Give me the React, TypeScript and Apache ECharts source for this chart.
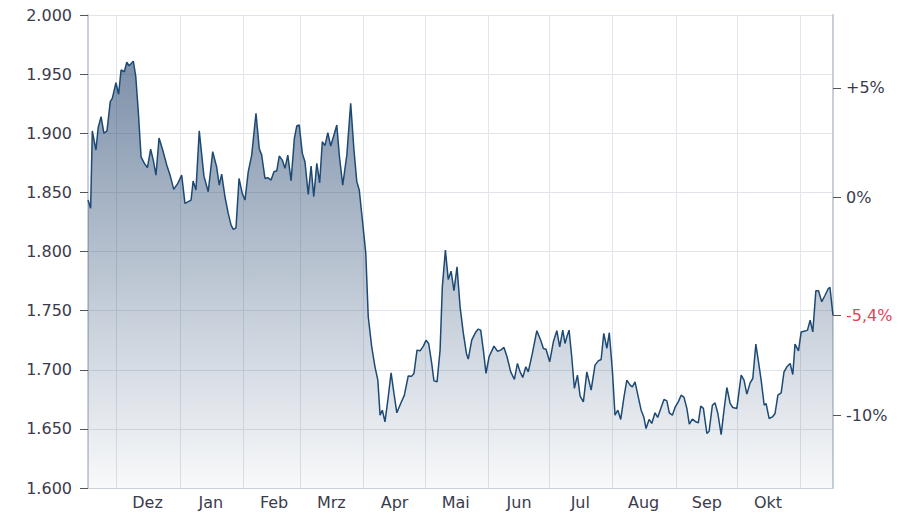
import { useEffect, useRef } from 'react';
import * as echarts from 'echarts';

// period shown: one year of daily closes
const startDate = Date.UTC(2022, 10, 17);
const spanDays = 365;
const DAY = 86400000;

// reference close for the percent scale on the right
const refClose = 1.846;

// day offsets (from startDate)
const dayOffsets = [
  0, 1.3, 2.1, 3.9, 5.0, 6.4, 7.8, 9.3, 10.9, 11.9, 13.7, 15.0, 16.2, 17.8, 19.0, 20.2, 22.2, 23.4, 24.6, 26.0,
  27.6, 29.1, 30.7, 32.0, 33.3, 34.8, 36.6, 38.6, 40.3, 42.0, 44.0, 45.9, 47.5, 50.5, 51.5, 52.9, 54.5, 56.8, 58.9,
  61.1, 63.0, 64.3, 65.5, 67.1, 68.7, 70.1, 71.2, 72.5, 74.0, 75.6, 76.9, 78.5, 80.2, 82.3, 83.9, 85.1, 86.7, 88.1,
  89.7, 91.1, 92.5, 93.7, 95.2, 96.5, 97.9, 99.5, 101.1, 102.3, 103.5, 105.0, 106.3, 107.9, 109.3, 110.6, 112.1,
  113.5, 114.8, 116.1, 117.5, 118.9, 120.5, 121.9, 123.2, 124.8, 126.8, 128.7, 130.3, 131.7, 132.9, 134.6, 136.1,
  137.3, 139.0, 140.6, 142.0, 143.1, 144.2, 145.5, 147.1, 148.5, 149.9, 151.3, 153.2, 155.0, 156.9, 158.6, 159.7,
  161.2, 162.7, 164.3, 165.6, 166.9, 168.4, 169.5, 171.0, 172.5, 173.6, 175.1, 176.5, 177.9, 179.3, 180.8, 182.3,
  183.9, 185.4, 186.3, 188.0, 190.0, 191.2, 192.4, 193.7, 195.0, 196.5, 198.9, 200.6, 202.2, 203.8, 205.3, 207.1,
  208.9, 210.4, 211.7, 213.0, 214.5, 215.7, 217.7, 219.9, 221.8, 223.1, 224.4, 226.2, 228.0, 229.7, 231.1, 232.6,
  233.7, 234.6, 235.7, 237.0, 238.3, 239.8, 241.1, 242.7, 244.4, 246.5, 248.4, 250.0, 251.4, 252.7, 254.2, 255.4,
  256.9, 258.2, 259.6, 261.0, 262.6, 264.0, 265.6, 266.7, 268.0, 269.4, 271.0, 272.3, 273.4, 274.9, 276.2, 277.8,
  279.1, 280.8, 282.2, 283.6, 284.8, 286.3, 287.6, 289.2, 290.6, 292.0, 293.4, 294.6, 296.1, 297.8, 299.0, 300.2,
  301.5, 303.2, 304.3, 305.9, 307.2, 308.6, 310.2, 311.6, 313.0, 314.6, 315.9, 317.9, 320.0, 321.4, 322.8, 324.4,
  325.7, 327.2, 328.5, 329.8, 331.3, 332.2, 333.7, 335.3, 336.6, 338.0, 339.6, 341.0, 342.4, 344.0, 345.3, 346.4,
  348.1, 349.4, 351.3, 352.5, 353.8, 355.1, 356.6, 357.9, 359.5, 361.1, 362.7, 363.5, 365,
];

const closes = [
  1.8435, 1.8365, 1.9019, 1.8858, 1.905, 1.914, 1.9, 1.902, 1.9267, 1.9295, 1.9427, 1.933, 1.9535, 1.952, 1.96,
  1.957, 1.961, 1.948, 1.9196, 1.88, 1.8745, 1.871, 1.8866, 1.877, 1.8646, 1.896, 1.8858, 1.873, 1.864, 1.8525,
  1.8576, 1.8646, 1.8407, 1.8435, 1.8596, 1.852, 1.902, 1.8637, 1.8505, 1.8844, 1.8717, 1.8562, 1.8655, 1.8463,
  1.8322, 1.8223, 1.8187, 1.82, 1.8618, 1.849, 1.8435, 1.8674, 1.8815, 1.9168, 1.8872, 1.8815, 1.8618, 1.8624,
  1.8604, 1.8674, 1.8683, 1.8807, 1.8773, 1.8703, 1.8815, 1.8598, 1.8957, 1.9063, 1.9069, 1.883, 1.8759, 1.8483,
  1.8723, 1.8463, 1.8745, 1.8581, 1.8928, 1.8895, 1.9004, 1.8892, 1.8985, 1.907, 1.88, 1.8562, 1.8815, 1.9253,
  1.8858, 1.859, 1.852, 1.8238, 1.7984, 1.7448, 1.7194, 1.7025, 1.6912, 1.6616, 1.6658, 1.656, 1.677, 1.6974,
  1.68, 1.6636, 1.6715, 1.6785, 1.6948, 1.6946, 1.6969, 1.7166, 1.716, 1.72, 1.725, 1.7222, 1.7053, 1.6906, 1.6898,
  1.7166, 1.7701, 1.8012, 1.7764, 1.7834, 1.7668, 1.787, 1.7532, 1.7307, 1.7138, 1.709, 1.725, 1.732, 1.7344,
  1.7335, 1.7166, 1.6969, 1.711, 1.72, 1.7157, 1.7166, 1.7189, 1.711, 1.6982, 1.6918, 1.7053, 1.6982, 1.6935,
  1.7025, 1.6982, 1.7138, 1.733, 1.725, 1.718, 1.7174, 1.7067, 1.7236, 1.733, 1.7194, 1.7335, 1.7222, 1.7278,
  1.7335, 1.711, 1.6842, 1.6955, 1.6777, 1.6728, 1.6982, 1.6828, 1.7039, 1.7075, 1.7087, 1.7307, 1.718, 1.7313,
  1.6997, 1.6616, 1.6658, 1.658, 1.677, 1.6912, 1.687, 1.6855, 1.6898, 1.6785, 1.6658, 1.6601, 1.6503, 1.658,
  1.6546, 1.6636, 1.6597, 1.6681, 1.6749, 1.6737, 1.6636, 1.6616, 1.6681, 1.6728, 1.6785, 1.6766, 1.6673, 1.654,
  1.6582, 1.656, 1.6551, 1.6692, 1.6673, 1.6461, 1.648, 1.67, 1.672, 1.663, 1.6452, 1.6658, 1.685, 1.6715, 1.6681,
  1.6673, 1.6955, 1.6912, 1.6794, 1.6889, 1.6926, 1.7217, 1.7067, 1.6912, 1.67, 1.6715, 1.6588, 1.6601, 1.663,
  1.6785, 1.6805, 1.6982, 1.7025, 1.7053, 1.696, 1.7217, 1.716, 1.732, 1.7327, 1.7335, 1.742, 1.732, 1.7668,
  1.7668, 1.7575, 1.763, 1.7687, 1.7696, 1.746,
];

const monthNames = ['Jan', 'Feb', 'Mrz', 'Apr', 'Mai', 'Jun', 'Jul', 'Aug', 'Sep', 'Okt', 'Nov', 'Dez'];

const lastClose = closes[closes.length - 1];

const textColor = '#3b3b4b';
const gridColor = '#e1e5eb';
const axisColor = '#c8cfd8';

function pctLabel(v: number) {
  const p = Math.round((v / refClose - 1) * 1000) / 10;
  const s = String(Math.abs(p)).replace('.', ',');
  if (p > 0) return '+' + s + '%';
  if (p < 0) return '-' + s + '%';
  return '0%';
}

export default function App() {
  const chartRef = useRef<HTMLDivElement>(null);

  useEffect(() => {
    if (!chartRef.current) {
      return;
    }
    document.body.style.margin = '0';

    const chart = echarts.init(chartRef.current, undefined, { renderer: 'svg' });

    const seriesData = dayOffsets.map((d, i) => [startDate + d * DAY, closes[i]]);
    const pctValues = [refClose * 1.05, refClose, lastClose, refClose * 0.9];

    const option: echarts.EChartsOption = {
      animation: false,
      textStyle: { fontFamily: 'DejaVu Sans' },
      grid: {
        left: 88,
        right: 87,
        top: 15,
        bottom: 35,
        containLabel: false,
        outerBoundsMode: 'none',
      } as any,
      xAxis: {
        type: 'time',
        min: startDate,
        max: startDate + spanDays * DAY,
        splitNumber: 12,
        minInterval: 28 * DAY,
        maxInterval: 31 * DAY,
        axisLine: { show: true, lineStyle: { color: axisColor } },
        axisTick: { show: false },
        splitLine: { show: true, lineStyle: { color: gridColor, width: 1 } },
        axisLabel: {
          formatter: (v: number) => {
            const m = new Date(v).getUTCMonth();
            return m === 10 ? '' : monthNames[m];
          },
          padding: [0, 0, 0, 62],
          color: textColor,
          fontSize: 16,
          fontWeight: 'normal',
          margin: 6,
          hideOverlap: false,
          showMinLabel: false,
          showMaxLabel: false,
        },
      } as any,
      yAxis: [
        {
          type: 'value',
          position: 'left',
          min: 1.6,
          max: 2.0,
          interval: 0.05,
          axisLine: { show: true, lineStyle: { color: axisColor, width: 2 } },
          axisTick: { show: true, length: 8, lineStyle: { color: '#555' } },
          axisLabel: {
            formatter: (v: number) => v.toFixed(3),
            color: textColor,
            fontSize: 16,
            margin: 16,
          },
          splitLine: { show: true, lineStyle: { color: gridColor, width: 1 } },
        },
        {
          type: 'value',
          position: 'right',
          min: 1.6,
          max: 2.0,
          axisLine: { show: true, lineStyle: { color: axisColor, width: 2 } },
          axisTick: { show: true, length: 8, customValues: pctValues, lineStyle: { color: '#555' } },
          axisLabel: {
            customValues: pctValues,
            formatter: (v: number) =>
              Math.abs(v - lastClose) < 1e-6 ? `{last|${pctLabel(v)}}` : pctLabel(v),
            color: textColor,
            fontSize: 16,
            margin: 13,
            rich: {
              last: { color: '#e8415a', fontSize: 16, fontFamily: 'DejaVu Sans' },
            },
          },
          splitLine: { show: false },
        },
      ] as any,
      series: [
        {
          type: 'line',
          data: seriesData,
          showSymbol: false,
          lineStyle: { color: '#1d4a75', width: 1.5 },
          areaStyle: {
            opacity: 1,
            color: new echarts.graphic.LinearGradient(0, 0, 0, 1, [
              { offset: 0, color: 'rgba(28, 62, 105, 0.57)' },
              { offset: 1, color: 'rgba(28, 62, 105, 0.03)' },
            ]),
          },
        },
      ],
    };

    chart.setOption(option);

    return () => {
      chart.dispose();
    };
  }, []);

  return <div ref={chartRef} style={{ width: 920, height: 523 }} />;
}
